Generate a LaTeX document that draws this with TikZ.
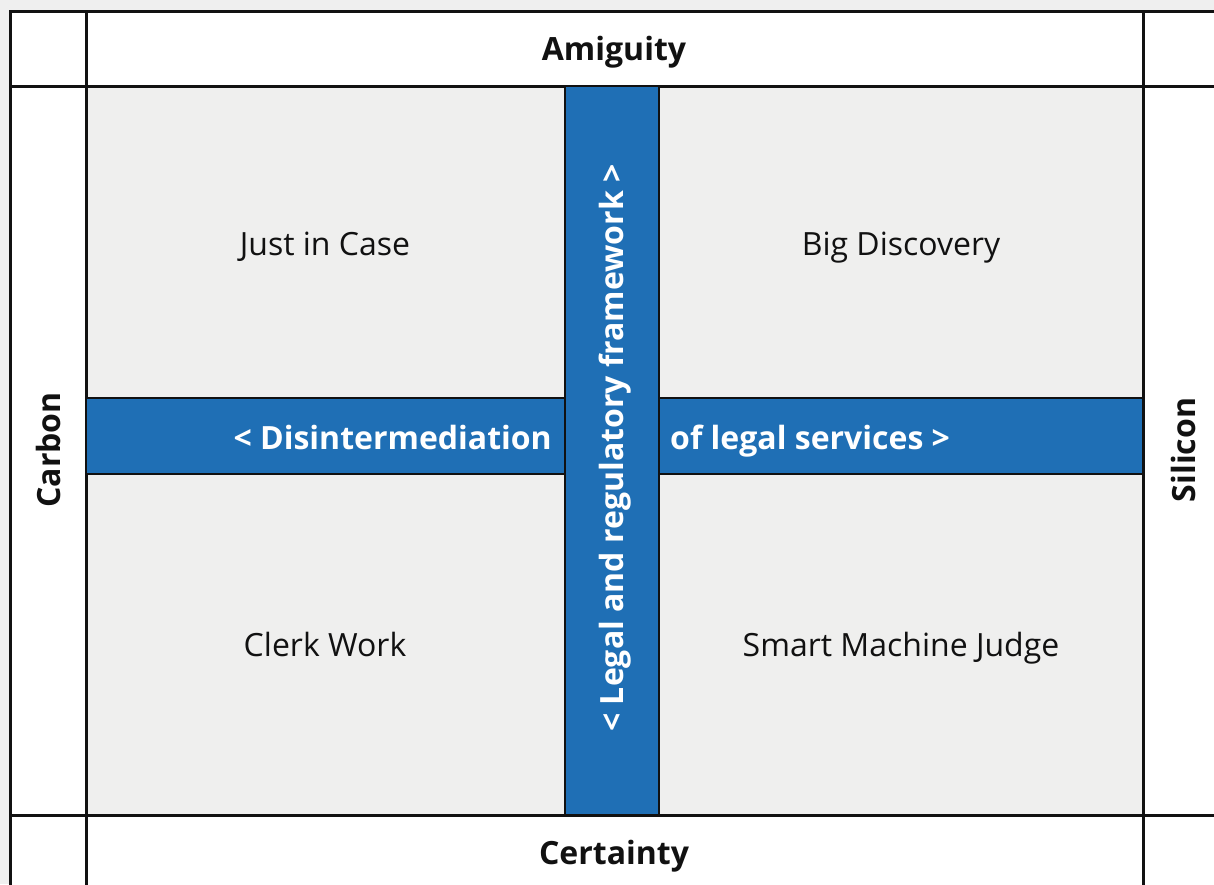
\documentclass[tikz,border=0pt]{standalone}
\usepackage{fontspec}
\setmainfont{Open Sans}
\definecolor{pagebg}{HTML}{EFEFEF}
\definecolor{cellgrey}{HTML}{EFEFEE}
\definecolor{barblue}{HTML}{1F6FB5}
\definecolor{ink}{HTML}{111111}
\tikzset{
  grid/.style={draw=ink, line width=3pt},
  bar/.style={fill=barblue, draw=ink, line width=2pt},
  quad/.style={font=\fontsize{32}{38}\selectfont, text=ink, inner sep=0pt, anchor=base},
  axis/.style={font=\bfseries\fontsize{32}{38}\selectfont, text=ink, inner sep=0pt},
  bartext/.style={font=\bfseries\fontsize{32}{38}\selectfont, text=white, inner sep=0pt},
}
\begin{document}
\begin{tikzpicture}[x=1pt,y=-1pt]
\useasboundingbox (0,0) rectangle (1214,884);
\fill[pagebg] (0,0) rectangle (1214,884);
\begin{scope}
\clip (0,0) rectangle (1214,884);
\fill[white] (10,11) rectangle (1240,910);
\fill[cellgrey] (86,86) rectangle (1143,815);
% grid
\draw[grid] (10,910) -- (10,11) -- (1240,11);
\draw[grid] (10,86) -- (1240,86);
\draw[grid] (10,815) -- (1240,815);
\draw[grid] (86,11) -- (86,910);
\draw[grid] (1143,11) -- (1143,910);
\end{scope}
% blue bars
\draw[bar] (86,398) rectangle (565,474);
\draw[bar] (659,398) rectangle (1143,474);
\draw[bar] (565,86) rectangle (659,815);
% axis labels
\node[axis, anchor=base] (top) at (614,60.5) {Amiguity};
\node[axis, anchor=base] (bottom) at (614,864) {Certainty};
\node[axis, rotate=90] (left) at (48,450) {Carbon};
\node[axis, rotate=90] (right) at (1183,450) {Silicon};
% quadrants
\node[quad] (q1) at (325,255.5) {Just in Case};
\node[quad] (q2) at (901,255.5) {Big Discovery};
\node[quad] (q3) at (325,656.5) {Clerk Work};
\node[quad] (q4) at (901,656.5) {Smart Machine Judge};
% bar texts
\node[bartext, anchor=base east] (hl) at (552,449) {< Disintermediation};
\node[bartext, anchor=base west] (hr) at (670,449) {of legal services >};
\node[bartext, rotate=90, anchor=base] (vt) at (623.5,448) {< Legal and regulatory framework >};
\end{tikzpicture}
\end{document}
